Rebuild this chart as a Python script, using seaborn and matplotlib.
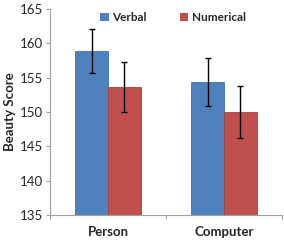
import matplotlib
matplotlib.use("Agg")
import matplotlib.pyplot as plt
import seaborn as sns
import pandas as pd
import numpy as np

categories = ["Person", "Computer"]
series = ["Verbal", "Numerical"]
verbal = [158.8, 154.3]
numerical = [153.6, 150.0]
verbal_err = [3.2, 3.5]
numerical_err = [3.6, 3.75]
yticks = [135, 140, 145, 150, 155, 160, 165]

sns.set_theme(style="white")
plt.rcParams['font.family'] = ['Lato', 'DejaVu Sans']

df = pd.DataFrame({
    "Condition": categories * 2,
    "Type": [series[0]] * 2 + [series[1]] * 2,
    "Score": verbal + numerical,
})
errs = {series[0]: verbal_err, series[1]: numerical_err}

fig = plt.figure(figsize=(2.84, 2.4), dpi=100)
ax = fig.add_axes([0.176, 0.104, 0.817, 0.859])
palette = {"Verbal": "#4F81BD", "Numerical": "#C0504D"}
sns.barplot(data=df, x="Condition", y="Score", hue="Type", order=categories,
            hue_order=series, palette=palette, errorbar=None, width=0.565,
            saturation=1, ax=ax, edgecolor=None, linewidth=0)

for cont, s in zip(ax.containers, series):
    edge = {"Verbal": "#3D6FA8", "Numerical": "#A8403D"}[s]
    for bar, e, v in zip(cont, errs[s], df[df.Type == s]["Score"]):
        bar.set_edgecolor(edge)
        bar.set_linewidth(0.6)
        cx = bar.get_x() + bar.get_width() / 2
        ax.errorbar(cx, v, yerr=e, fmt="none", ecolor="black", elinewidth=1,
                    capsize=2.5, capthick=1)

fs = 9.5
ax.set_ylim(135, 165)
ax.set_xlim(-0.5, 1.5)
ax.set_yticks(yticks)
ax.set_yticklabels([str(t) for t in yticks], fontsize=fs)
ax.set_xticks([0, 1])
ax.set_xticklabels(categories, fontsize=fs, fontweight="bold")
ax.set_xticks([-0.5, 0.5, 1.5], minor=True)
ax.tick_params(axis="x", which="major", length=0, pad=8)
ax.tick_params(axis="x", which="minor", length=3, color="#A0A0A0", width=0.8, bottom=True)
ax.tick_params(axis="y", length=3, color="#A0A0A0", width=0.8, left=True, pad=2)
ax.set_xlabel("")
ax.set_ylabel("Beauty Score", fontsize=fs, fontweight="bold", labelpad=3)
for side in ["top", "right"]:
    ax.spines[side].set_visible(False)
for side in ["left", "bottom"]:
    ax.spines[side].set_color("#A0A0A0")
    ax.spines[side].set_linewidth(0.8)

leg = ax.legend(loc="upper center", bbox_to_anchor=(0.53, 1.035), ncol=2, frameon=False,
                handlelength=0.7, handleheight=0.7, handletextpad=0.3,
                columnspacing=2.8, prop={"weight": "bold", "size": 8.5})

fig.savefig("out.png", dpi=100)
